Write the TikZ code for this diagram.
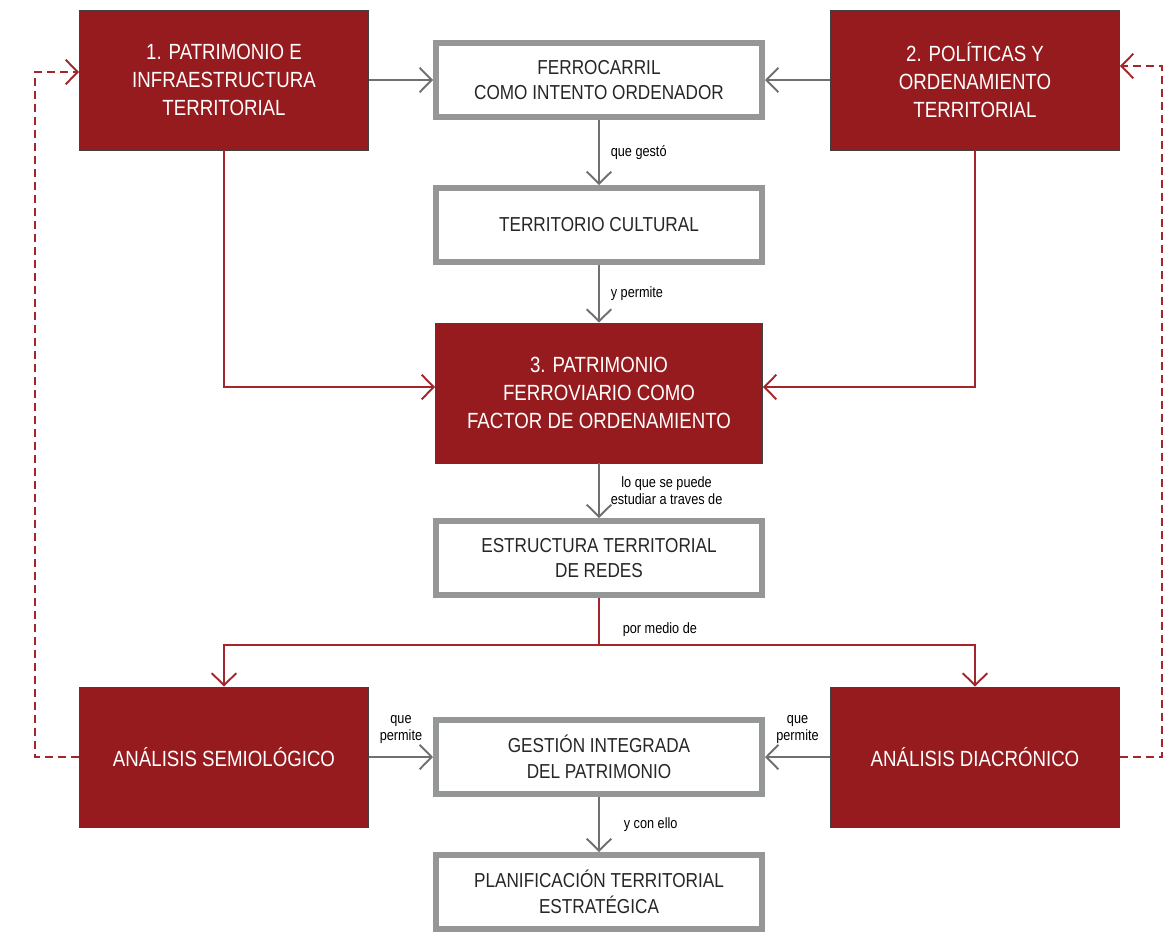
\documentclass[tikz,border=0pt]{standalone}
\usepackage{fontspec}
\setmainfont{Liberation Sans}[FakeStretch=0.85]
\usetikzlibrary{positioning, arrows.meta}

\definecolor{patred}{HTML}{951B1F}
\definecolor{linered}{HTML}{A3262B}
\definecolor{boxgray}{HTML}{959797}
\definecolor{linegray}{HTML}{707070}

\tikzset{
  redbox/.style={draw=black!75, line width=0.5pt, fill=patred, text=white,
    minimum width=5.78cm, minimum height=2.8cm, align=center,
    font=\fontsize{12.5}{16}\selectfont},
  whitebox/.style={draw=boxgray, line width=1.2mm, fill=white, text=black!85,
    minimum width=6.52cm, minimum height=1.48cm, align=center,
    font=\fontsize{11.5}{14.5}\selectfont},
  lbl/.style={font=\fontsize{8.5}{10}\selectfont, text=black, align=center},
  grayarrow/.style={draw=linegray, line width=1.1pt, -{Straight Barb[length=2.4mm, width=4.9mm]}},
  redarrow/.style={draw=linered, line width=1.1pt, -{Straight Barb[length=2.4mm, width=4.9mm]}},
}

\begin{document}
\begin{tikzpicture}[x=0.2mm, y=-0.2mm, on grid]
        \useasboundingbox (0,0) rectangle (1165,933);

        % central column
        \node[whitebox]                           (ferro)    at (599,80) {FERROCARRIL\\COMO INTENTO ORDENADOR};
        \node[whitebox] [below=2.9cm of ferro]    (terrcult) {TERRITORIO CULTURAL};
        \node[redbox, minimum width=6.54cm] [below=3.36cm of terrcult] (patferro) {3. PATRIMONIO\\FERROVIARIO COMO\\FACTOR DE ORDENAMIENTO};
        \node[whitebox] [below=3.3cm of patferro] (estred)   {ESTRUCTURA TERRITORIAL\\DE REDES};
        \node[whitebox] [below=3.98cm of estred]  (gestion)  {GESTIÓN INTEGRADA\\DEL PATRIMONIO};
        \node[whitebox] [below=2.7cm of gestion]  (planif)   {PLANIFICACIÓN TERRITORIAL\\ESTRATÉGICA};

        % side boxes
        \node[redbox] (patinf) at (224,80)   {1. PATRIMONIO E\\INFRAESTRUCTURA\\TERRITORIAL};
        \node[redbox] (polord) at (975,80)   {2. POLÍTICAS Y\\ORDENAMIENTO\\TERRITORIAL};
        \node[redbox] (semio)  at (224,757)  {ANÁLISIS SEMIOLÓGICO};
        \node[redbox] (diacro) at (975,757)  {ANÁLISIS DIACRÓNICO};

        \coordinate (fork)  at (599,645);
        \coordinate (lback) at (35,757);
        \coordinate (rback) at (1162,757);

        \path[grayarrow]
          (patinf)   edge (ferro)
          (polord)   edge (ferro)
          (ferro)    edge node[lbl, right=1mm] {que gestó} (terrcult)
          (terrcult) edge node[lbl, right=1mm] {y permite} (patferro)
          (patferro) edge node[lbl, right=1mm] {lo que se puede\\estudiar a traves de} (estred)
          (semio)    edge node[lbl, above=1.3mm] {que\\permite} (gestion)
          (diacro)   edge node[lbl, above=1.3mm] {que\\permite} (gestion)
          (gestion)  edge node[lbl, right=3.6mm] {y con ello} (planif);

        \draw[redarrow] (patinf) |- ([yshift=1.2mm]patferro.west);
        \draw[redarrow] (polord) |- ([yshift=1.2mm]patferro.east);

        \draw[redarrow, -] (estred) -- (fork)
          node[lbl, anchor=south west, xshift=3.4mm, yshift=0.3mm] {por medio de};
        \draw[redarrow] (fork) -| (semio);
        \draw[redarrow] (fork) -| (diacro);

        \draw[redarrow, dash pattern=on 1.6mm off 1mm] (semio) -- (lback) |- ([yshift=1.6mm]patinf.west);
        \draw[redarrow, dash pattern=on 1.6mm off 1mm] (diacro) -- (rback) |- ([yshift=2.8mm]polord.east);

      \end{tikzpicture}
\end{document}
